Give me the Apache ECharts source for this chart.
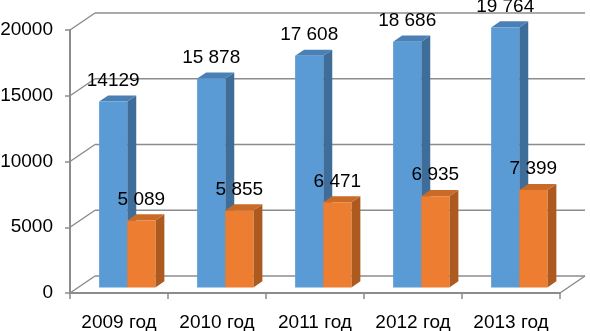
<!DOCTYPE html>
<html>
<head>
<meta charset="utf-8">
<script src="https://cdn.jsdelivr.net/npm/echarts@6/dist/echarts.min.js"></script>
<style>html,body{margin:0;padding:0;background:#fff}#c{width:590px;height:331px}</style>
</head>
<body>
<div id="c"></div>
<script>
var categories = ['2009 год', '2010 год', '2011 год', '2012 год', '2013 год'];
var blueValues = [14129, 15878, 17608, 18686, 19764];
var orangeValues = [5089, 5855, 6471, 6935, 7399];
var blueLabels = ['14129', '15 878', '17 608', '18 686', '19 764'];
var orangeLabels = ['5 089', '5 855', '6 471', '6 935', '7 399'];
var yTicks = [0, 5000, 10000, 15000, 20000];

var FONT = 'Liberation Sans';
var DX = 25, DY = -17;      // depth vector of the back wall
var Z0 = 0.33, Z1 = 0.69;   // bar depth range
var BAR_FRAC = 0.287;       // bar width relative to band

function wallsRender(params, api) {
  var cs = params.coordSys;
  var x0 = cs.x, x1 = cs.x + cs.width;
  var children = [];
  var st = { stroke: '#8c8c8c', lineWidth: 1.5 };
  yTicks.forEach(function (v) {
    var y = api.coord([0, v])[1];
    children.push({ type: 'line', shape: { x1: x0, y1: y, x2: x0 + DX, y2: y + DY }, style: st });
    children.push({ type: 'line', shape: { x1: x0 + DX, y1: y + DY, x2: x1 + DX, y2: y + DY }, style: st });
  });
  var yb = api.coord([0, 0])[1];
  children.push({ type: 'line', shape: { x1: x1, y1: yb, x2: x1 + DX, y2: yb + DY }, style: st });
  return { type: 'group', children: children };
}

function makeBarRender(side, colors, labels) {
  return function (params, api) {
    var i = api.value(0), v = api.value(1);
    var base = api.coord([i, 0]);
    var top = api.coord([i, v]);
    var bw = api.size([1, 0])[0];
    var w = bw * BAR_FRAC;
    var xl = side === 0 ? base[0] - w : base[0];
    var xr = xl + w;
    var yt = top[1], yb = base[1];
    function p(x, y, z) { return [x + z * DX, y + z * DY]; }
    var front = [p(xl, yt, Z0), p(xr, yt, Z0), p(xr, yb, Z0), p(xl, yb, Z0)];
    var sideF = [p(xr, yt, Z0), p(xr, yt, Z1), p(xr, yb, Z1), p(xr, yb, Z0)];
    var topF = [p(xl, yt, Z0), p(xr, yt, Z0), p(xr, yt, Z1), p(xl, yt, Z1)];
    var lp = p((xl + xr) / 2, yt, Z0);
    return {
      type: 'group',
      children: [
        { type: 'polygon', shape: { points: sideF }, style: { fill: colors[1] } },
        { type: 'polygon', shape: { points: topF }, style: { fill: colors[2] } },
        { type: 'polygon', shape: { points: front }, style: { fill: colors[0] } },
        { type: 'text', style: { text: labels[params.dataIndex], x: lp[0], y: lp[1] - 21,
          align: 'center', verticalAlign: 'middle', font: '19px "' + FONT + '"', fill: '#000' } }
      ]
    };
  };
}

var chart = echarts.init(document.getElementById('c'), null, { renderer: 'canvas' });
chart.setOption({
  animation: false,
  backgroundColor: '#fff',
  grid: { left: 70, right: 30, top: 30, bottom: 38, containLabel: false, outerBoundsMode: 'none' },
  xAxis: {
    type: 'category', data: categories, boundaryGap: true,
    axisLine: { show: true, lineStyle: { color: '#8c8c8c', width: 2 } },
    axisTick: { show: true, length: 6, lineStyle: { color: '#8c8c8c', width: 1.5 } },
    axisLabel: { margin: 20, color: '#000', fontFamily: FONT, fontSize: 19 }
  },
  yAxis: {
    type: 'value', min: 0, max: 20000, interval: 5000,
    axisLine: { show: true, lineStyle: { color: '#8c8c8c', width: 2 } },
    axisTick: { show: true, length: 5, lineStyle: { color: '#8c8c8c', width: 1.5 } },
    splitLine: { show: false },
    axisLabel: { margin: 17, color: '#000', fontFamily: FONT, fontSize: 19,
      formatter: function (v) { return String(v); } }
  },
  series: [
    { type: 'custom', z: 1, renderItem: wallsRender, data: [[0, 0]], silent: true },
    { type: 'custom', z: 2, renderItem: makeBarRender(0, ['#5b9bd5', '#3f6d99', '#4a80b6'], blueLabels),
      data: blueValues.map(function (v, i) { return [i, v]; }) },
    { type: 'custom', z: 3, renderItem: makeBarRender(1, ['#ed7d31', '#ad5a20', '#c96a27'], orangeLabels),
      data: orangeValues.map(function (v, i) { return [i, v]; }) }
  ]
});
</script>
</body>
</html>
